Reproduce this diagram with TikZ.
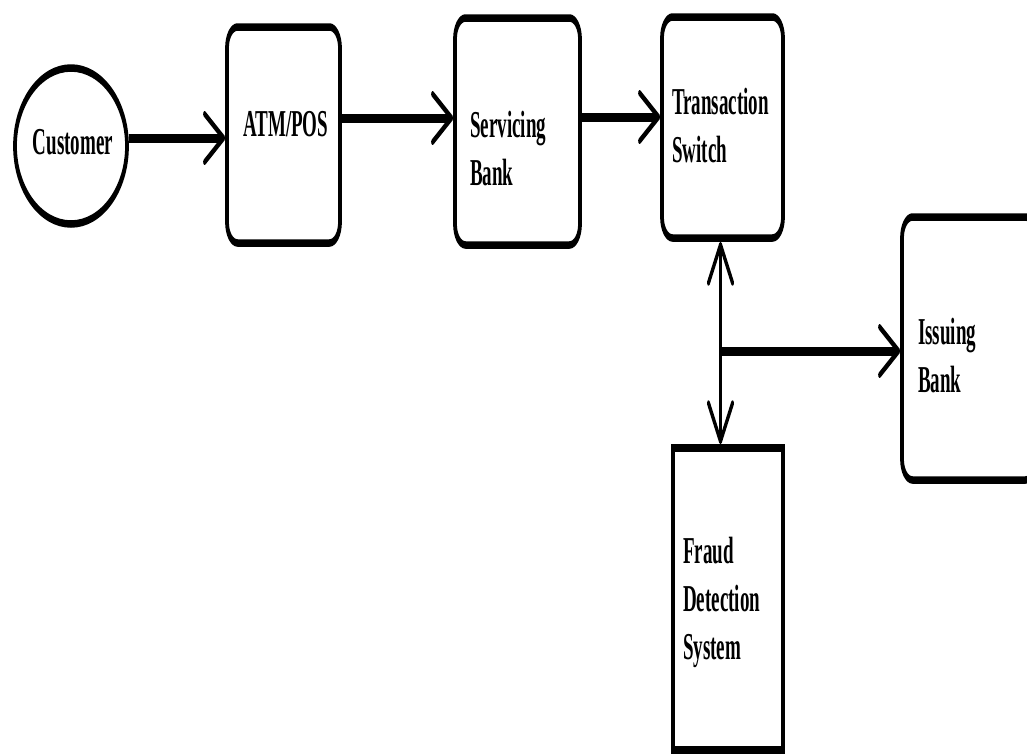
\documentclass[tikz,border=0pt]{standalone}
\usepackage{fontspec}
\setmainfont{Liberation Serif}
\usetikzlibrary{arrows.meta,shapes.geometric}
\begin{document}
\begin{tikzpicture}[x=1pt,y=1pt,
  box/.style={draw, line width=7.5pt, rounded corners=21pt, inner sep=0pt},
  plainbox/.style={draw, line width=7.5pt, inner sep=0pt},
  lbl/.style={anchor=north west, inner sep=0pt, align=left,
    font=\fontsize{38}{48}\selectfont\bfseries},
  flow/.style={line width=9pt,
    -{Straight Barb[length=38pt,width=48pt,line width=6pt,round]}},
  both/.style={line width=6pt,
    {Straight Barb[length=38pt,width=48pt,line width=6pt,round]}-{Straight Barb[length=38pt,width=48pt,line width=6pt,round]}},
  link/.style={line width=9pt}
]
\fill[white] (0,0) rectangle (1027,-753);
\useasboundingbox (0,0) rectangle (1027,-753);
% everything is drawn wide and then narrowed to half its width
\begin{scope}[transform canvas={xscale=0.5}]
  \node[draw, ellipse, line width=7.5pt, inner sep=0pt,
        minimum width=224pt, minimum height=156pt] (cust) at (142,-146) {};
  \node[font=\fontsize{38}{48}\selectfont\bfseries, inner sep=0pt] (custtxt) at (146,-142) {Customer};

  \node[box, minimum width=226pt, minimum height=216pt] (atm)  at (567,-135) {};
  \node[box, minimum width=250pt, minimum height=227pt] (serv) at (1035,-131.5) {};
  \node[box, minimum width=242pt, minimum height=221pt] (sw)   at (1445,-127.5) {};
  \node[box, minimum width=268pt, minimum height=263pt] (iss)  at (1938,-348.5) {};
  \node[plainbox, minimum width=220pt, minimum height=302pt] (fra) at (1456,-599) {};

  \node[lbl] (atmtxt)  at (486,-111)  {ATM/POS};
  \node[lbl] (servtxt) at (940,-111)  {Servicing\\Bank};
  \node[lbl] (swtxt)   at (1344,-88)  {Transaction\\Switch};
  \node[lbl] (isstxt)  at (1836,-318) {Issuing\\Bank};
  \node[lbl] (fratxt)  at (1366,-537) {Fraud\\Detection\\System};

  \coordinate (split) at (1441,-351);

  \draw[flow] ([yshift=8pt]cust.east) -- ([yshift=8pt]cust.east -| atm.west);
  \draw[flow] (atm.east |- 0,-118) -- (serv.west |- 0,-118);
  \draw[flow] (serv.east |- 0,-117) -- (sw.west |- 0,-117);
  \draw[both] (sw.south -| split) -- (fra.north -| split);
  \draw[flow] (split) -- (split -| iss.west);
\end{scope}
\end{tikzpicture}
\end{document}
